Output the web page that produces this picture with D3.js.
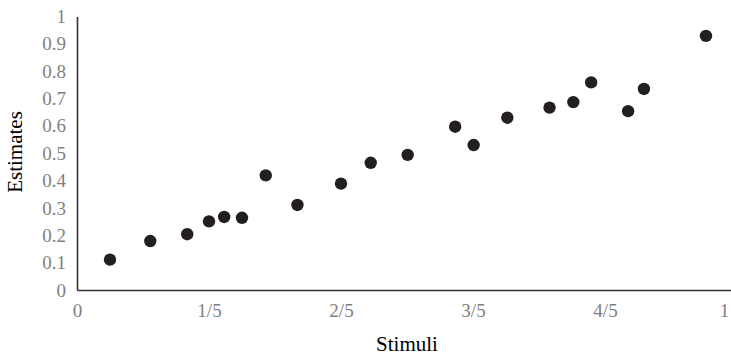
<!DOCTYPE html>
<html>
<head>
<meta charset="utf-8">
<script src="https://cdn.jsdelivr.net/npm/d3@7"></script>
<style>
html,body{margin:0;padding:0;background:#fff;}
svg{display:block;}
</style>
</head>
<body>
<svg id="chart" width="731" height="356"></svg>
<script>
const stimuli = [0.050,0.111,0.167,0.200,0.223,0.250,0.286,0.334,0.400,0.445,0.501,0.573,0.601,0.652,0.716,0.752,0.779,0.835,0.859,0.953];
const estimates = [0.111,0.179,0.204,0.251,0.267,0.264,0.419,0.311,0.389,0.465,0.494,0.597,0.530,0.630,0.667,0.687,0.759,0.654,0.735,0.929];
const xTickValues = [0,0.2,0.4,0.6,0.8,1];
const xTickLabels = ["0","1/5","2/5","3/5","4/5","1"];
const yTickValues = [0,0.1,0.2,0.3,0.4,0.5,0.6,0.7,0.8,0.9,1];
const yTickLabels = ["0","0.1","0.2","0.3","0.4","0.5","0.6","0.7","0.8","0.9","1"];

const svg = d3.select("#chart");
const font = "'Liberation Serif','Times New Roman',serif";
const x = d3.scaleLinear().domain([0,1]).range([77,737]);
const y = d3.scaleLinear().domain([0,1]).range([290,16.5]);

// axes
const xAxis = svg.append("g").attr("transform","translate(0,290)")
  .call(d3.axisBottom(x).tickValues(xTickValues).tickFormat((d,i)=>xTickLabels[i]).tickSize(0).tickPadding(14));
xAxis.select(".domain").attr("stroke","#333").attr("stroke-width",1.6);
xAxis.selectAll("text").attr("font-family",font).attr("font-size",19).attr("fill","#7f7f7f");
xAxis.selectAll(".tick").filter(d=>d===1).select("text").attr("dx",-13);

const yAxis = svg.append("g").attr("transform","translate(77,0)")
  .call(d3.axisLeft(y).tickValues(yTickValues).tickFormat((d,i)=>yTickLabels[i]).tickSize(0).tickPadding(11));
yAxis.select(".domain").attr("stroke","#333").attr("stroke-width",1.6);
yAxis.selectAll("text").attr("font-family",font).attr("font-size",19).attr("fill","#7f7f7f");

// points
svg.append("g").selectAll("circle").data(stimuli).join("circle")
  .attr("cx",(d)=>x(d)).attr("cy",(d,i)=>y(estimates[i])).attr("r",6.2).attr("fill","#231f20");

// titles
svg.append("text").attr("x",407).attr("y",351).attr("text-anchor","middle")
  .attr("font-family",font).attr("font-size",21).attr("fill","#000").text("Stimuli");
svg.append("text").attr("transform","translate(22,152) rotate(-90)").attr("text-anchor","middle")
  .attr("font-family",font).attr("font-size",21).attr("fill","#000").text("Estimates");
</script>
</body>
</html>
